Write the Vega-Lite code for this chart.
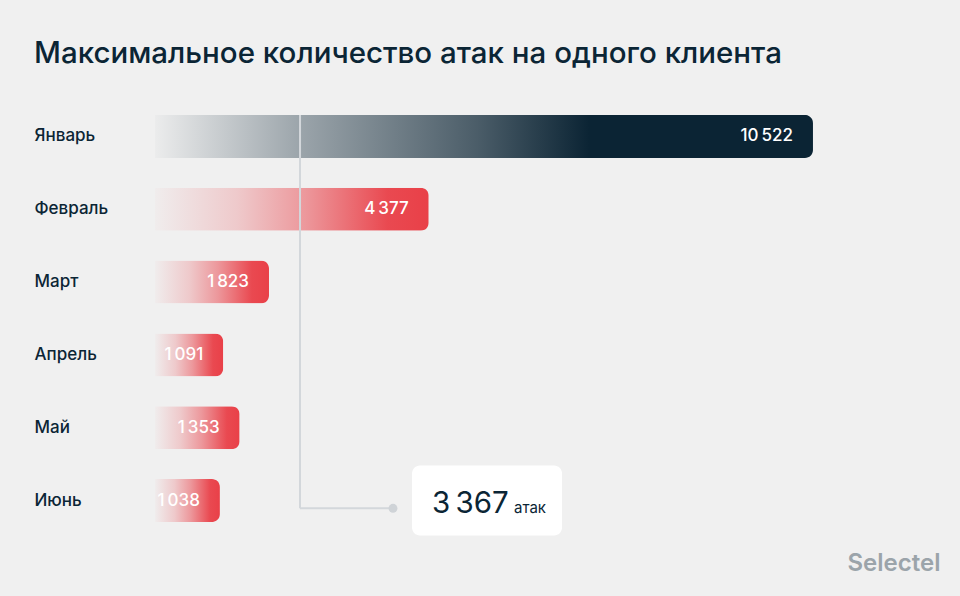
{
  "$schema": "https://vega.github.io/schema/vega-lite/v6.json",
  "autosize": "none",
  "width": 805,
  "height": 437,
  "padding": {"left": 155, "top": 100, "right": 0, "bottom": 59},
  "background": "#f0f0f0",
  "title": {
    "text": "Максимальное количество атак на одного клиента",
    "anchor": "start",
    "frame": "group",
    "dx": -121,
    "offset": 8,
    "baseline": "alphabetic",
    "font": "Inter",
    "fontSize": 29.5,
    "fontWeight": 500,
    "color": "#0b2535"
  },
  "datasets": {
    "months": [
      {"month": "Январь", "value": 10522},
      {"month": "Февраль", "value": 4377},
      {"month": "Март", "value": 1823},
      {"month": "Апрель", "value": 1091},
      {"month": "Май", "value": 1353},
      {"month": "Июнь", "value": 1038}
    ],
    "avg": [{"avg": 3367, "unit": "атак", "brand": "Selectel"}]
  },
  "data": {"name": "months"},
  "config": {
    "view": {"stroke": null},
    "locale": {"number": {"decimal": ",", "thousands": "\u2009", "grouping": [3], "currency": ["", ""]}},
    "axisY": {
      "domain": false,
      "ticks": false,
      "grid": false,
      "title": null,
      "labelAlign": "left",
      "labelPadding": 121,
      "labelFont": "Inter",
      "labelFontSize": 17,
      "labelFontWeight": 500,
      "labelColor": "#0b2535"
    }
  },
  "layer": [
    {
      "transform": [{"filter": "datum.month === 'Январь'"}],
      "mark": {
        "type": "bar",
        "cornerRadiusEnd": 8,
        "color": {
          "gradient": "linear", "x1": 0, "y1": 0, "x2": 1, "y2": 0,
          "stops": [
            {"offset": 0, "color": "rgba(11,36,52,0.02)"},
            {"offset": 0.22, "color": "rgba(11,36,52,0.37)"},
            {"offset": 0.49, "color": "rgba(11,36,52,0.72)"},
            {"offset": 0.66, "color": "#0b2434"},
            {"offset": 1, "color": "#0b2434"}
          ]
        }
      },
      "encoding": {
        "y": {"field": "month", "type": "nominal", "title": null,
              "scale": {"domain": ["Январь", "Февраль", "Март", "Апрель", "Май", "Июнь"], "paddingInner": 0.41, "paddingOuter": 0.205}},
        "x": {"field": "value", "type": "quantitative", "axis": null, "scale": {"domain": [0, 12873], "nice": false}}
      }
    },
    {
      "transform": [{"filter": "datum.month !== 'Январь'"}],
      "mark": {
        "type": "bar",
        "cornerRadiusEnd": 8,
        "color": {
          "gradient": "linear", "x1": 0, "y1": 0, "x2": 1, "y2": 0,
          "stops": [
            {"offset": 0, "color": "rgba(233,64,72,0.02)"},
            {"offset": 0.3, "color": "rgba(233,64,72,0.22)"},
            {"offset": 0.55, "color": "rgba(233,64,72,0.5)"},
            {"offset": 0.85, "color": "rgba(233,64,72,0.95)"},
            {"offset": 1, "color": "#e94048"}
          ]
        }
      },
      "encoding": {
        "y": {"field": "month", "type": "nominal", "title": null},
        "x": {"field": "value", "type": "quantitative", "axis": null}
      }
    },
    {
      "mark": {"type": "text", "align": "right", "baseline": "middle", "dx": -20, "font": "Inter", "fontSize": 17, "fontWeight": 500, "color": "#ffffff"},
      "encoding": {
        "y": {"field": "month", "type": "nominal", "title": null},
        "x": {"field": "value", "type": "quantitative", "axis": null},
        "text": {"field": "value", "type": "quantitative", "format": ",d"}
      }
    },
    {
      "data": {"name": "avg"},
      "mark": {"type": "rule", "color": "#d3d7db", "strokeWidth": 2},
      "encoding": {
        "x": {"datum": 2319, "type": "quantitative", "axis": null},
        "y": {"datum": "Январь", "type": "nominal", "bandPosition": 0, "title": null},
        "y2": {"datum": "Июнь", "bandPosition": 0.68}
      }
    },
    {
      "data": {"name": "avg"},
      "mark": {"type": "rule", "color": "#d3d7db", "strokeWidth": 2},
      "encoding": {
        "x": {"datum": 2319, "type": "quantitative", "axis": null},
        "x2": {"datum": 3806},
        "y": {"datum": "Июнь", "type": "nominal", "bandPosition": 0.68, "title": null}
      }
    },
    {
      "data": {"name": "avg"},
      "mark": {"type": "point", "filled": true, "size": 80, "color": "#cfd3d7", "opacity": 1},
      "encoding": {
        "x": {"datum": 3806, "type": "quantitative", "axis": null},
        "y": {"datum": "Июнь", "type": "nominal", "bandPosition": 0.68, "title": null}
      }
    },
    {
      "data": {"name": "avg"},
      "mark": {"type": "bar", "color": "#ffffff", "cornerRadius": 8, "height": {"band": 1.63}},
      "encoding": {
        "x": {"datum": 4110, "type": "quantitative", "axis": null},
        "x2": {"datum": 6509},
        "y": {"datum": "Июнь", "type": "nominal", "title": null}
      }
    },
    {
      "data": {"name": "avg"},
      "mark": {"type": "text", "align": "left", "baseline": "alphabetic", "dy": 12, "font": "Inter", "fontSize": 29.5, "letterSpacing": -1.5, "color": "#0b2535"},
      "encoding": {
        "x": {"datum": 4430, "type": "quantitative", "axis": null},
        "y": {"datum": "Июнь", "type": "nominal", "title": null},
        "text": {"field": "avg", "type": "quantitative", "format": ",d"}
      }
    },
    {
      "data": {"name": "avg"},
      "mark": {"type": "text", "align": "left", "baseline": "alphabetic", "dx": 4, "dy": 12, "font": "Inter", "fontSize": 15, "color": "#0b2535"},
      "encoding": {
        "x": {"datum": 5677, "type": "quantitative", "axis": null},
        "y": {"datum": "Июнь", "type": "nominal", "title": null},
        "text": {"field": "unit", "type": "nominal"}
      }
    },
    {
      "data": {"name": "avg"},
      "mark": {"type": "text", "align": "right", "baseline": "middle", "dy": 63, "font": "Inter", "fontSize": 24, "fontWeight": 600, "color": "#9ba4aa"},
      "encoding": {
        "x": {"datum": 12560, "type": "quantitative", "axis": null},
        "y": {"datum": "Июнь", "type": "nominal", "title": null},
        "text": {"field": "brand", "type": "nominal"}
      }
    }
  ]
}
